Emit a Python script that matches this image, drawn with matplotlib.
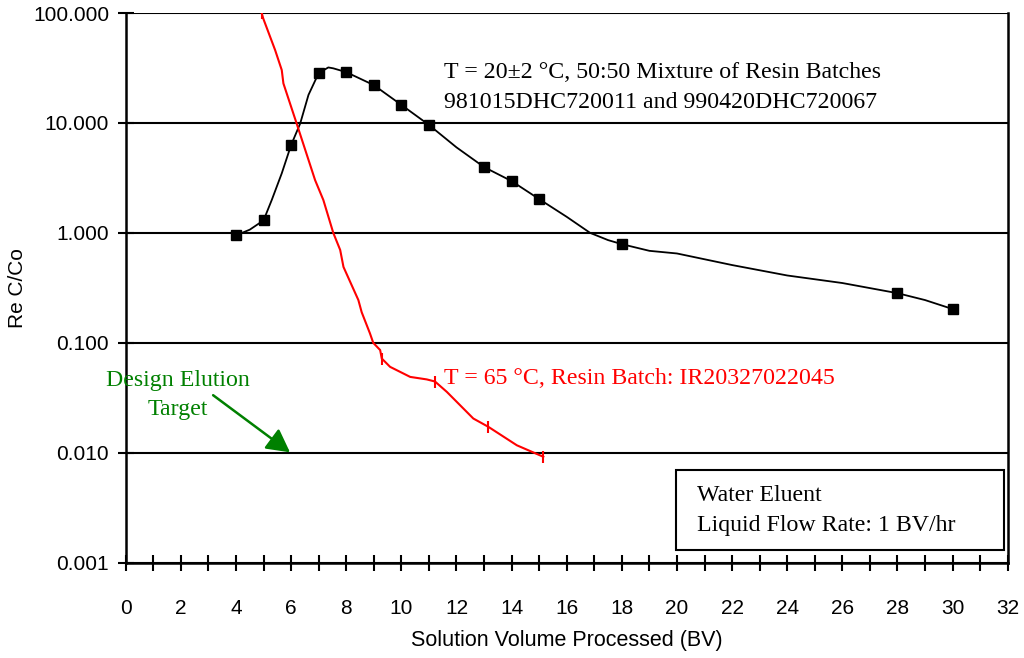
import matplotlib
matplotlib.use("Agg")
import matplotlib.pyplot as plt
from matplotlib.patches import Rectangle
from matplotlib.ticker import FixedLocator, MultipleLocator, FuncFormatter

# ---- data ----
# 20 C curve: measured points (markers)
bv_20_pts = [4, 5, 6, 7, 8, 9, 10, 11, 13, 14, 15, 18, 28, 30]
c_20_pts = [0.95, 1.3, 6.3, 28.4, 29.0, 22.1, 14.6, 9.6, 3.97, 2.96, 2.03, 0.79, 0.283, 0.203]
# 20 C curve: smoothed trace
bv_20_line = [4.0, 4.5, 5.0, 5.3, 5.66, 6.0, 6.33, 6.63, 7.0, 7.35, 7.53, 8.0, 9.0, 10.0, 11.0,
              12.0, 13.0, 14.0, 15.0, 16.0, 16.85, 17.5, 18.0, 19.0, 20.0, 22.0, 24.0, 26.0, 28.0, 29.0, 30.0]
c_20_line = [0.95, 1.07, 1.3, 2.0, 3.48, 6.3, 9.9, 18.0, 28.4, 32.0, 31.4, 29.0, 22.1, 14.6, 9.6,
             6.0, 3.97, 2.96, 2.03, 1.4, 1.0, 0.86, 0.79, 0.687, 0.65, 0.51, 0.41, 0.35, 0.283, 0.245, 0.203]
# 65 C curve
bv_65 = [4.93, 4.99, 5.42, 5.66, 5.72, 6.2, 6.87, 7.17, 7.53, 7.78, 7.9, 8.44, 8.56, 8.86, 8.98,
         9.23, 9.29, 9.59, 10.32, 10.92, 11.22, 11.65, 12.61, 13.16, 14.19, 15.15]
c_65 = [100, 89, 46, 30.3, 22.9, 9.9, 3.02, 1.99, 1.0, 0.70, 0.49, 0.245, 0.19, 0.122, 0.10,
        0.086, 0.072, 0.0605, 0.049, 0.0465, 0.0445, 0.0358, 0.0205, 0.0172, 0.0117, 0.0092]
red_mark_idx = [0, 16, 20, 23, 25]

y_ticks = [0.001, 0.01, 0.1, 1, 10, 100]
x_major = list(range(0, 33, 2))

label_20a = "T = 20\u00b12 \u00b0C, 50:50 Mixture of Resin Batches"
label_20b = "981015DHC720011 and 990420DHC720067"
label_65 = "T = 65 \u00b0C, Resin Batch: IR20327022045"
label_target = "Design Elution\nTarget"
box_lines = ["Water Eluent", "Liquid Flow Rate: 1 BV/hr"]

# ---- figure ----
sans = "Liberation Sans"
serif = "Liberation Serif"
fs_serif = 17.2
fig = plt.figure(figsize=(10.24, 6.58), dpi=100)
ax = fig.add_axes([0.1228, 0.1448, 0.8613, 0.8354])

ax.set_yscale("log")
ax.set_xlim(0, 32)
ax.set_ylim(0.001, 100)

for y in y_ticks:
    ax.axhline(y, color="black", lw=1.5, zorder=1)

ax.plot(bv_20_line, c_20_line, color="black", lw=1.3, zorder=3)
ax.plot(bv_20_pts, c_20_pts, ls="none", marker="s", ms=7, color="black", zorder=4)
ax.plot(bv_65, c_65, color="red", lw=1.5, zorder=3,
        marker="|", markevery=red_mark_idx, ms=9, mew=1.5)

ax.yaxis.set_major_locator(FixedLocator(y_ticks))
ax.yaxis.set_minor_locator(FixedLocator([]))
ax.yaxis.set_major_formatter(FuncFormatter(lambda v, p: f"{v:.3f}"))
ax.xaxis.set_major_locator(FixedLocator(x_major))
ax.xaxis.set_minor_locator(MultipleLocator(1))

ax.tick_params(axis="x", which="both", direction="inout", length=12, width=1.5,
               labelsize=15, pad=20)
ax.tick_params(axis="y", which="both", direction="inout", length=12, width=1.5,
               labelsize=15, pad=6)
for lab in ax.get_xticklabels() + ax.get_yticklabels():
    lab.set_fontfamily(sans)

for s in ["left", "bottom", "right"]:
    ax.spines[s].set_linewidth(1.8)
ax.spines["top"].set_visible(False)

ax.set_xlabel("Solution Volume Processed (BV)", fontsize=15.5, family=sans, labelpad=9)
ax.set_ylabel("Re C/Co", fontsize=15, family=sans, labelpad=4)

ax.text(11.55, 29.0, label_20a, fontsize=fs_serif, family=serif, va="center", ha="left")
ax.text(11.55, 15.5, label_20b, fontsize=fs_serif, family=serif, va="center", ha="left")
ax.text(11.55, 0.0477, label_65, fontsize=fs_serif, family=serif, va="center", ha="left", color="red")

green = "#008000"
ax.annotate("", xy=(5.96, 0.0101), xytext=(3.17, 0.0334),
            arrowprops=dict(arrowstyle="-|>,head_length=1.4,head_width=0.75",
                            color=green, lw=1.8, shrinkA=0, shrinkB=0))
ax.text(1.88, 0.0337, label_target, fontsize=fs_serif, family=serif, color=green,
        ha="center", va="center", linespacing=1.5, clip_on=False)

ax.add_patch(Rectangle((0.624, 0.023), 0.3718, 0.1456, transform=ax.transAxes,
                       fill=False, ec="black", lw=1.5, zorder=5))
ax.text(0.648, 0.123, box_lines[0], transform=ax.transAxes, fontsize=fs_serif, family=serif,
        va="center", ha="left")
ax.text(0.648, 0.067, box_lines[1], transform=ax.transAxes, fontsize=fs_serif, family=serif,
        va="center", ha="left")

fig.savefig("out.png", dpi=100)
